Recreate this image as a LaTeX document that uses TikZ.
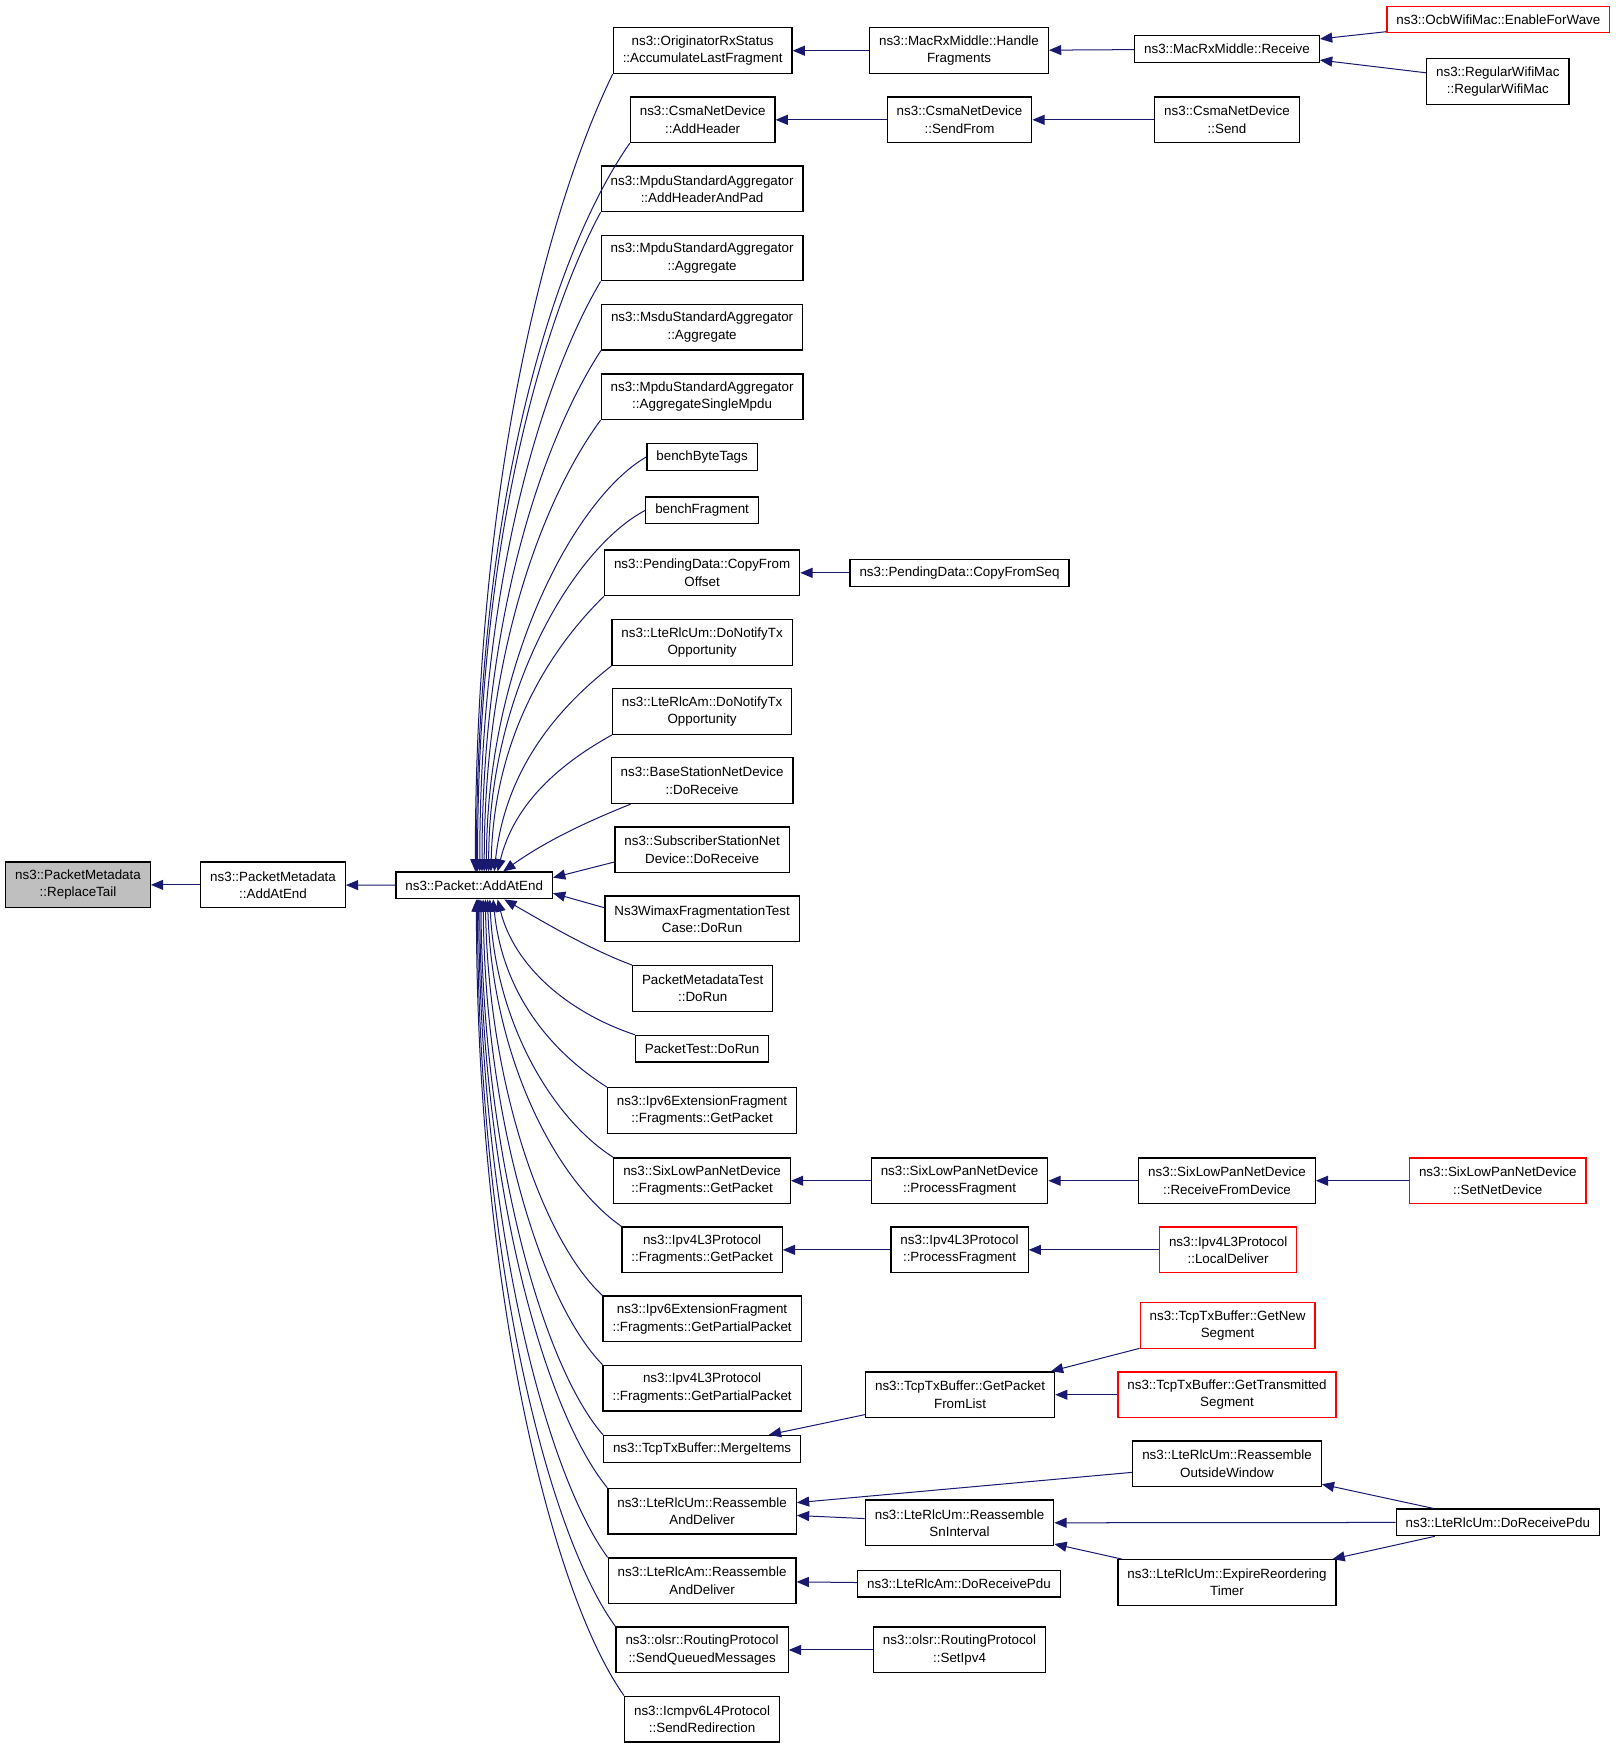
\documentclass[tikz,border=0pt]{standalone}
\usepackage{fontspec}
\setmainfont{Liberation Sans}
\usetikzlibrary{arrows.meta}
\definecolor{bleunuit}{RGB}{25,25,112}
\definecolor{grisfond}{RGB}{191,191,191}

\begin{document}
\begin{tikzpicture}[x=1pt,y=-1pt,
    boite/.style={draw,line width=1.1pt,align=center,inner xsep=8.5pt,inner ysep=2pt,
        minimum height=24pt,font=\fontsize{12}{15.5}\selectfont},
    double/.style={boite,minimum height=41pt},
    rouge/.style={draw=red},
    lien/.style={draw=bleunuit,line width=0.9pt,-{Triangle[length=11pt,width=9pt]}}]
    \useasboundingbox (0,0) rectangle (1450,1568.5);

    % Fonction de depart
    \node[double,fill=grisfond] (rt) at (70,794) {ns3::PacketMetadata\\::ReplaceTail};
    \node[double] (pmae) at (245,794) {ns3::PacketMetadata\\::AddAtEnd};
    \node[boite] (pae) at (425.5,794.5) {ns3::Packet::AddAtEnd};

    % Appelants directs
    \node[double] (c1) at (630.5,45.5) {ns3::OriginatorRxStatus\\::AccumulateLastFragment};
    \node[double] (c2) at (630.5,107.5) {ns3::CsmaNetDevice\\::AddHeader};
    \node[double] (c3) at (630,169.5) {ns3::MpduStandardAggregator\\::AddHeaderAndPad};
    \node[double] (c4) at (630,231.5) {ns3::MpduStandardAggregator\\::Aggregate};
    \node[double] (c5) at (630,293.5) {ns3::MsduStandardAggregator\\::Aggregate};
    \node[double] (c6) at (630,356) {ns3::MpduStandardAggregator\\::AggregateSingleMpdu};
    \node[boite] (c7) at (630,410) {benchByteTags};
    \node[boite] (c8) at (630,458) {benchFragment};
    \node[double] (c9) at (630,514) {ns3::PendingData::CopyFrom\\Offset};
    \node[double] (c10) at (630,576.5) {ns3::LteRlcUm::DoNotifyTx\\Opportunity};
    \node[double] (c11) at (630,638.5) {ns3::LteRlcAm::DoNotifyTx\\Opportunity};
    \node[double] (c12) at (630,700.5) {ns3::BaseStationNetDevice\\::DoReceive};
    \node[double] (c13) at (630,762.5) {ns3::SubscriberStationNet\\Device::DoReceive};
    \node[double] (c14) at (630,824.5) {Ns3WimaxFragmentationTest\\Case::DoRun};
    \node[double] (c15) at (630.5,887) {PacketMetadataTest\\::DoRun};
    \node[boite] (c16) at (630,941) {PacketTest::DoRun};
    \node[double] (c17) at (630,996.5) {ns3::Ipv6ExtensionFragment\\::Fragments::GetPacket};
    \node[double] (c18) at (630,1059.5) {ns3::SixLowPanNetDevice\\::Fragments::GetPacket};
    \node[double] (c19) at (630,1121.5) {ns3::Ipv4L3Protocol\\::Fragments::GetPacket};
    \node[double] (c20) at (630,1183.5) {ns3::Ipv6ExtensionFragment\\::Fragments::GetPartialPacket};
    \node[double] (c21) at (630,1245.5) {ns3::Ipv4L3Protocol\\::Fragments::GetPartialPacket};
    \node[boite] (c22) at (630,1300) {ns3::TcpTxBuffer::MergeItems};
    \node[double] (c23) at (630,1356) {ns3::LteRlcUm::Reassemble\\AndDeliver};
    \node[double] (c24) at (630,1418.5) {ns3::LteRlcAm::Reassemble\\AndDeliver};
    \node[double] (c25) at (630,1480.5) {ns3::olsr::RoutingProtocol\\::SendQueuedMessages};
    \node[double] (c26) at (630,1542.5) {ns3::Icmpv6L4Protocol\\::SendRedirection};

    % Quatrieme colonne
    \node[double] (hf) at (860.5,45.5) {ns3::MacRxMiddle::Handle\\Fragments};
    \node[double] (sfr) at (861,107.5) {ns3::CsmaNetDevice\\::SendFrom};
    \node[boite] (cfs) at (861,514) {ns3::PendingData::CopyFromSeq};
    \node[double] (pf6) at (861,1059.5) {ns3::SixLowPanNetDevice\\::ProcessFragment};
    \node[double] (pf4) at (861,1121.5) {ns3::Ipv4L3Protocol\\::ProcessFragment};
    \node[double] (gpfl) at (861.5,1251.5) {ns3::TcpTxBuffer::GetPacket\\FromList};
    \node[double] (sni) at (861,1366.5) {ns3::LteRlcUm::Reassemble\\SnInterval};
    \node[boite] (amdr) at (860.5,1421) {ns3::LteRlcAm::DoReceivePdu};
    \node[double] (sip) at (861,1480.5) {ns3::olsr::RoutingProtocol\\::SetIpv4};

    % Cinquieme colonne
    \node[boite] (rcv) at (1101,44) {ns3::MacRxMiddle::Receive};
    \node[double] (snd) at (1101,107.5) {ns3::CsmaNetDevice\\::Send};
    \node[double] (rfd) at (1101,1059.5) {ns3::SixLowPanNetDevice\\::ReceiveFromDevice};
    \node[double,rouge] (ld) at (1102,1121.5) {ns3::Ipv4L3Protocol\\::LocalDeliver};
    \node[double,rouge] (gns) at (1101.5,1189.5) {ns3::TcpTxBuffer::GetNew\\Segment};
    \node[double,rouge] (gts) at (1101,1251.5) {ns3::TcpTxBuffer::GetTransmitted\\Segment};
    \node[double] (ow) at (1101,1313.5) {ns3::LteRlcUm::Reassemble\\OutsideWindow};
    \node[double] (ert) at (1101,1420) {ns3::LteRlcUm::ExpireReordering\\Timer};

    % Derniere colonne
    \node[boite,rouge] (efw) at (1344.5,17.5) {ns3::OcbWifiMac::EnableForWave};
    \node[double] (rwm) at (1344,73) {ns3::RegularWifiMac\\::RegularWifiMac};
    \node[double,rouge] (snd6) at (1344,1059.5) {ns3::SixLowPanNetDevice\\::SetNetDevice};
    \node[boite] (drpu) at (1344,1366) {ns3::LteRlcUm::DoReceivePdu};

    % Chaine principale
    \draw[lien] (pmae) -- (rt);
    \draw[lien] (pae) -- (pmae);

    % Appelants du haut
    \draw[lien] (c1.south west) .. controls +(-56,115) and +(0,-358) .. ([xshift=1]pae.north);
    \draw[lien] (c2.south west) .. controls +(-70,100) and +(0,-328) .. ([xshift=2]pae.north);
    \draw[lien] (c3.south west) .. controls +(-51,95) and +(0,-297) .. ([xshift=3]pae.north);
    \draw[lien] (c4.south west) .. controls +(-50,85) and +(0,-266) .. ([xshift=5]pae.north);
    \draw[lien] (c5.south west) .. controls +(-49,75) and +(0,-235) .. ([xshift=7]pae.north);
    \draw[lien] (c6.south west) .. controls +(-48,65) and +(0,-203) .. ([xshift=9]pae.north);
    \draw[lien] (c7.west) .. controls +(-64,37) and +(0,-187) .. ([xshift=11]pae.north);
    \draw[lien] (c8.west) .. controls +(-63,33) and +(0,-163) .. ([xshift=13]pae.north);
    \draw[lien] (c9.south west) .. controls +(-46,45) and +(3,-124) .. ([xshift=15]pae.north);
    \draw[lien] (c10.south west) .. controls +(-47,37) and +(10,-93) .. ([xshift=18]pae.north);
    \draw[lien] (c11.south west) .. controls +(-45,25) and +(15,-62) .. ([xshift=21]pae.north);
    \draw[lien] ([xshift=18]c12.south west) .. controls +(-45,18) and +(35,-25) .. ([xshift=26]pae.north);
    \draw[lien] ([yshift=-11]c13.west) -- ([yshift=7]pae.east);
    \draw[lien] ([yshift=10]c14.west) -- ([yshift=-7]pae.east);

    % Appelants du bas
    \draw[lien] (c15.north west) .. controls +(-40,-15) and +(35,20) .. ([xshift=27]pae.south);
    \draw[lien] (c16.north west) .. controls +(-60,-20) and +(15,60) .. ([xshift=21]pae.south);
    \draw[lien] (c17.north west) .. controls +(-55,-35) and +(8,80) .. ([xshift=17]pae.south);
    \draw[lien] (c18.north west) .. controls +(-55,-35) and +(5,110) .. ([xshift=14]pae.south);
    \draw[lien] (c19.north west) .. controls +(-60,-42) and +(4,140) .. ([xshift=12]pae.south);
    \draw[lien] (c20.north west) .. controls +(-52,-48) and +(3,170) .. ([xshift=10]pae.south);
    \draw[lien] (c21.north west) .. controls +(-54,-55) and +(2,200) .. ([xshift=8]pae.south);
    \draw[lien] (c22.north west) .. controls +(-54,-62) and +(2,230) .. ([xshift=6]pae.south);
    \draw[lien] (c23.north west) .. controls +(-57,-70) and +(1,255) .. ([xshift=5]pae.south);
    \draw[lien] (c24.north west) .. controls +(-57,-78) and +(1,285) .. ([xshift=4]pae.south);
    \draw[lien] (c25.north west) .. controls +(-62,-85) and +(0,315) .. ([xshift=3]pae.south);
    \draw[lien] (c26.north west) .. controls +(-66,-93) and +(0,345) .. ([xshift=2]pae.south);

    % Autres liens
    \draw[lien] (hf) -- (c1);
    \draw[lien] (rcv) -- (hf);
    \draw[lien] (efw) -- (rcv);
    \draw[lien] (rwm) -- (rcv);
    \draw[lien] (sfr) -- (c2);
    \draw[lien] (snd) -- (sfr);
    \draw[lien] (cfs) -- (c9);
    \draw[lien] (pf6) -- (c18);
    \draw[lien] (rfd) -- (pf6);
    \draw[lien] (snd6) -- (rfd);
    \draw[lien] (pf4) -- (c19);
    \draw[lien] (ld) -- (pf4);
    \draw[lien] (gpfl) -- (c22);
    \draw[lien] (gns) -- (gpfl);
    \draw[lien] (gts) -- (gpfl);
    \draw[lien] (ow) -- (c23);
    \draw[lien] (sni) -- (c23);
    \draw[lien] (drpu) -- (ow);
    \draw[lien] (drpu) -- (sni);
    \draw[lien] (drpu) -- (ert);
    \draw[lien] (ert) -- (sni);
    \draw[lien] (amdr) -- (c24);
    \draw[lien] (sip) -- (c25);
\end{tikzpicture}
\end{document}
